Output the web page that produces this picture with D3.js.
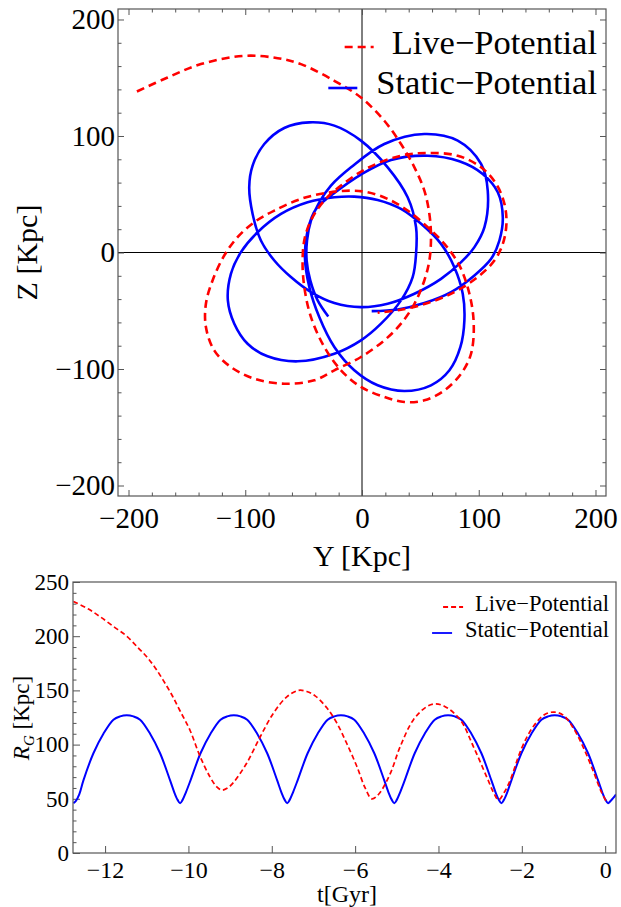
<!DOCTYPE html>
<html><head><meta charset="utf-8">
<script src="https://cdn.jsdelivr.net/npm/d3@7"></script>
<style>
body{margin:0;background:#fff;}
</style></head><body>
<svg id="chart" width="621" height="907"></svg>
<script>
// ---------------- DATA ----------------
const seriesNames = ["Live\u2212Potential", "Static\u2212Potential"];

// Orbit projection Y-Z (Kpc), Live potential (red dashed)
const liveY = [-192.8,-166.5,-138,-100.8,-72.2,-52.3,-23.7,-0.9,19.1,33.4,44.9,53.4,57.7,59.1,57.7,53.4,44.9,33.4,19.1,-0.9,-23.7,-40.9,-66.6,-92.3,-112.3,-126.6,-133.7,-133.7,-128,-118,-106.6,-92.3,-75.1,-52.3,-29.4,-9.4,4.9,22,39.1,56.3,70.6,83.4,92,95.7,93.4,84.9,70.6,53.4,36.3,19.1,-0.9,-18,-32.3,-43.7,-49.4,-50.9,-48.9,-42.3,-32.3,-18,4.9,33.4,56.3,82,102,114.9,122,123.7,120.6,113.4,99.1,79.1,56.3,33.4,13.4];
const liveZ = [138.2,150.2,161.7,168.8,166.8,161.7,147.4,133,113.1,93.1,73.1,53.1,33.1,13,-6.9,-24,-44,-61.1,-75.4,-89.7,-101.1,-109.7,-112.6,-108.3,-98.3,-84,-64,-44,-24,-2.6,13.1,26,36,46,51.4,53.1,51.7,46,36,21.7,7.4,-11.1,-35.4,-61.1,-86.9,-104,-118.3,-126.9,-128.3,-124,-115.4,-101.1,-81.1,-55.4,-29.7,-6.9,13.1,30.3,44.6,57.4,72.6,83.1,85.4,83.1,73.1,58.9,41.7,24.6,7.4,-6.9,-21.1,-34,-43.4,-49.1,-51.7];

// Orbit projection Y-Z (Kpc), Static potential (blue solid)
const staticY = [-28.9,-38.0,-44.3,-47.4,-47.1,-43.7,-36.6,-26.6,-9.4,19.1,53.4,82.0,102.0,107.7,104.9,96.3,84.9,67.7,44.9,22.0,-0.9,-23.7,-43.7,-60.9,-75.1,-86.6,-93.7,-96.6,-93.7,-83.7,-66.6,-45.1,-23.7,-0.9,22.0,39.1,46.3,46.3,43.4,33.4,16.3,-0.9,-23.7,-55.1,-80.9,-98.0,-109.4,-114.9,-112.3,-103.7,-89.4,-69.4,-46.6,-23.7,-6.6,13.4,33.4,50.6,67.7,79.1,86.3,87.7,84.3,74.9,59.1,36.3,13.4,-6.6,-23.7,-36.6,-45.1,-48.9,-46.6,-39.4,-23.7,-0.9,24.9,56.3,83.4,103.4,116.3,120.6,117.7,110.6,96.3,76.3,53.4,30.6,8.3];
const staticZ = [-54.9,-41.1,-24.0,-6.9,10.3,27.4,43.1,57.4,73.1,93.1,101.7,96.0,76.0,53.1,21.7,4.6,-8.3,-22.6,-35.4,-44.0,-46.9,-43.4,-34.0,-21.1,-6.9,10.3,33.1,56.0,74.6,93.1,106.9,111.7,108.9,96.0,73.1,47.4,21.7,-1.1,-21.1,-41.1,-61.1,-75.4,-86.9,-93.4,-89.1,-78.3,-61.1,-41.1,-18.3,0.3,17.4,33.1,43.1,47.4,48.0,45.1,37.4,24.6,7.4,-12.6,-35.4,-58.3,-81.1,-101.1,-114.0,-118.9,-114.0,-101.1,-81.1,-55.4,-29.7,-4.0,18.9,37.4,51,66.9,79.4,83.1,78.3,67.4,51.7,30.3,10.3,-5.4,-19.7,-34.0,-43.4,-48.9,-50.3];

// Galactocentric distance vs time, Live potential
const liveT = [-12.76,-12.4,-12.12,-11.8,-11.48,-11.2,-11.0,-10.8,-10.6,-10.4,-10.2,-9.96,-9.72,-9.48,-9.32,-9.2,-9.06,-8.92,-8.6,-8.28,-7.96,-7.64,-7.36,-7.16,-6.96,-6.68,-6.44,-6.2,-5.96,-5.76,-5.6,-5.44,-5.16,-4.92,-4.6,-4.28,-4.08,-3.84,-3.48,-3.16,-2.84,-2.68,-2.56,-2.42,-2.28,-2.0,-1.72,-1.44,-1.22,-1.0,-0.76,-0.52,-0.28,-0.1,0.02];
const liveR = [232,225,218,209,200,189,181,171,159,146,131,113,89,70,61,58,60,65,83,107,129,144,150,149,145,134,120,101,80,60,50,54,73,98,123,135,137.5,135,123,98,70,56,49,56,67,97,117,128,130,127,115,97,75,57,48];

// Galactocentric distance vs time, Static potential
const staticT = [-12.76,-12.7,-12.62,-12.52,-12.28,-12.04,-11.8,-11.64,-11.48,-11.32,-11.16,-10.92,-10.68,-10.44,-10.34,-10.26,-10.2,
  -10.14,-10.06,-9.95,-9.71,-9.47,-9.23,-9.07,-8.91,-8.75,-8.59,-8.35,-8.11,-7.87,-7.77,-7.69,-7.63,
  -7.57,-7.49,-7.38,-7.14,-6.9,-6.66,-6.5,-6.34,-6.18,-6.02,-5.78,-5.54,-5.3,-5.2,-5.12,-5.06,
  -5.0,-4.92,-4.81,-4.57,-4.33,-4.09,-3.93,-3.77,-3.61,-3.45,-3.21,-2.97,-2.73,-2.63,-2.55,-2.49,
  -2.43,-2.35,-2.25,-2.01,-1.77,-1.53,-1.37,-1.21,-1.05,-0.89,-0.65,-0.41,-0.17,-0.07,0.01,0.07,0.13,0.2,0.26];
const staticR = [46,48,54,67,92,110,123,126,127,126,123,110,92,67,56,49,46,
  49,56,67,92,110,123,126,127,126,123,110,92,67,56,49,46,
  49,56,67,92,110,123,126,127,126,123,110,92,67,56,49,46,
  49,56,67,92,110,123,126,127,126,123,110,92,67,56,49,46,
  49,56,67,92,110,123,126,127,126,123,110,92,67,56,49,46,48,51,54];

const orbitTicks = [-200,-100,0,100,200];
const rgTicks = [0,50,100,150,200,250];
const timeTicks = [-12,-10,-8,-6,-4,-2,0];

// ---------------- DRAWING ----------------
const SERIF = '"Liberation Serif","Times New Roman",Times,serif';
const svg = d3.select("#chart");
svg.append("rect").attr("width",621).attr("height",907).attr("fill","#fff");
const fmt = d => d < 0 ? "\u2212" + Math.abs(d) : String(d);
const RED = "#ff0000", BLUE = "#0000ff", FRAME = "#555";

function ticks(g, axisFn, scale, major, minor, len, minorLen, pad, fontSize, labels) {
  const a = g.append("g").call(axisFn(scale).tickValues(major).tickSize(-len).tickPadding(pad)
      .tickFormat(labels ? fmt : ""));
  a.attr("font-family", null);
  a.select(".domain").remove();
  a.selectAll("line").attr("stroke", FRAME);
  a.selectAll("text").style("font-size", fontSize + "px").style("font-family", SERIF).attr("fill","#000");
  if (minor) {
    const b = g.append("g").call(axisFn(scale).tickValues(minor).tickSize(-minorLen).tickFormat(""));
    b.select(".domain").remove();
    b.selectAll("line").attr("stroke", FRAME);
  }
  return a;
}
function txt(g, s, size) {
  return g.append("text").style("font-family", SERIF).style("font-size", size + "px").attr("fill", "#000").text(s);
}

// ===== Top panel =====
const T = {x0:118, x1:606, y0:9, y1:496};
const xT = d3.scaleLinear().domain([-209,209]).range([T.x0,T.x1]);
const yT = d3.scaleLinear().domain([-209,209]).range([T.y1,T.y0]);
const gT = svg.append("g");
svg.append("clipPath").attr("id","clipT").append("rect")
  .attr("x",T.x0).attr("y",T.y0).attr("width",T.x1-T.x0).attr("height",T.y1-T.y0);

gT.append("line").attr("x1",xT(0)).attr("x2",xT(0)).attr("y1",T.y0).attr("y2",T.y1).attr("stroke","#000").attr("stroke-width",1);
gT.append("line").attr("x1",T.x0).attr("x2",T.x1).attr("y1",yT(0)).attr("y2",yT(0)).attr("stroke","#000").attr("stroke-width",1);

const minorT = d3.range(-200,201,20).filter(v => v % 100 !== 0);
ticks(gT.append("g").attr("transform",`translate(0,${T.y1})`), d3.axisBottom, xT, orbitTicks, minorT, 6, 3.5, 11, 29, true);
ticks(gT.append("g").attr("transform",`translate(0,${T.y0})`), d3.axisTop, xT, orbitTicks, minorT, 6, 3.5, 10, 29, false);
ticks(gT.append("g").attr("transform",`translate(${T.x0},0)`), d3.axisLeft, yT, orbitTicks, minorT, 6, 3.5, 3, 29, true);
ticks(gT.append("g").attr("transform",`translate(${T.x1},0)`), d3.axisRight, yT, orbitTicks, minorT, 6, 3.5, 5, 29, false);

const lineT = d3.line().x(d => xT(d[0])).y(d => yT(d[1])).curve(d3.curveCatmullRom.alpha(0.5));
const liveOrbit = liveY.map((y,i) => [y, liveZ[i]]);
const staticOrbit = staticY.map((y,i) => [y, staticZ[i]]);
const curvesT = gT.append("g").attr("clip-path","url(#clipT)");
curvesT.append("path").attr("d", lineT(staticOrbit)).attr("fill","none").attr("stroke",BLUE).attr("stroke-width",2.6);
curvesT.append("path").attr("d", lineT(liveOrbit)).attr("fill","none").attr("stroke",RED).attr("stroke-width",2.6).attr("stroke-dasharray","8,5");

gT.append("rect").attr("x",T.x0).attr("y",T.y0).attr("width",T.x1-T.x0).attr("height",T.y1-T.y0)
  .attr("fill","none").attr("stroke",FRAME).attr("stroke-width",1.2);

txt(gT, "Y [Kpc]", 30).attr("x",xT(0)).attr("y",566).attr("text-anchor","middle");
txt(gT, "Z [Kpc]", 30).attr("transform",`translate(37,${yT(0)}) rotate(-90)`).attr("text-anchor","middle");

function legend(g, items, xRight, baselines, fontSize, swLen, gaps, swOffsets, width, dashes) {
  items.forEach((it, i) => {
    const t = txt(g, it.name, fontSize).attr("x", xRight).attr("y", baselines[i]).attr("text-anchor","end");
    const w = t.node().getComputedTextLength();
    const x1 = xRight - w - gaps[i];
    g.append("line").attr("x1", x1 - swLen).attr("x2", x1).attr("y1", baselines[i] - swOffsets[i]).attr("y2", baselines[i] - swOffsets[i])
      .attr("stroke", it.color).attr("stroke-width", width).attr("stroke-dasharray", it.dashed ? dashes : null);
  });
}
legend(gT, [{name:seriesNames[0], color:RED, dashed:true},{name:seriesNames[1], color:BLUE, dashed:false}],
  597, [54, 94], 34.5, 29, [18, 19], [7, 6], 2.6, "8,5");

// ===== Bottom panel =====
const B = {x0:73, x1:616, y0:582, y1:853};
const xB = d3.scaleLinear().domain([-12.77,0.26]).range([B.x0,B.x1]);
const yB = d3.scaleLinear().domain([0,250]).range([B.y1,B.y0]);
const gB = svg.append("g");
svg.append("clipPath").attr("id","clipB").append("rect")
  .attr("x",B.x0).attr("y",B.y0).attr("width",B.x1-B.x0).attr("height",B.y1-B.y0);

const minorR = d3.range(0,251,10).filter(v => v % 50 !== 0);
ticks(gB.append("g").attr("transform",`translate(0,${B.y1})`), d3.axisBottom, xB, timeTicks, null, 7, 0, 8, 24, true);
ticks(gB.append("g").attr("transform",`translate(${B.x0},0)`), d3.axisLeft, yB, rgTicks, minorR, 7, 3.5, 4, 23, true);

const lineB = d3.line().x(d => xB(d[0])).y(d => yB(d[1])).curve(d3.curveCatmullRom.alpha(0.5));
const curvesB = gB.append("g").attr("clip-path","url(#clipB)");
curvesB.append("path").attr("d", lineB(staticT.map((t,i)=>[t, staticR[i]]))).attr("fill","none").attr("stroke",BLUE).attr("stroke-width",2);
curvesB.append("path").attr("d", lineB(liveT.map((t,i)=>[t, liveR[i]]))).attr("fill","none").attr("stroke",RED).attr("stroke-width",1.7).attr("stroke-dasharray","5,3");

gB.append("rect").attr("x",B.x0).attr("y",B.y0).attr("width",B.x1-B.x0).attr("height",B.y1-B.y0)
  .attr("fill","none").attr("stroke",FRAME).attr("stroke-width",1.2);

txt(gB, "t[Gyr]", 24).attr("x",347).attr("y",902).attr("text-anchor","middle");
const yl = txt(gB, null, 23).attr("transform",`translate(29,718) rotate(-90)`).attr("text-anchor","middle");
yl.append("tspan").attr("font-style","italic").text("R");
yl.append("tspan").attr("font-style","italic").style("font-size","15px").attr("dy",5).text("G");
yl.append("tspan").attr("dy",-5).text(" [Kpc]");

legend(gB, [{name:seriesNames[0], color:RED, dashed:true},{name:seriesNames[1], color:BLUE, dashed:false}],
  609, [611, 637], 22.5, 20, [12, 13], [4, 4], 1.8, "5,3");
</script>
</body></html>
